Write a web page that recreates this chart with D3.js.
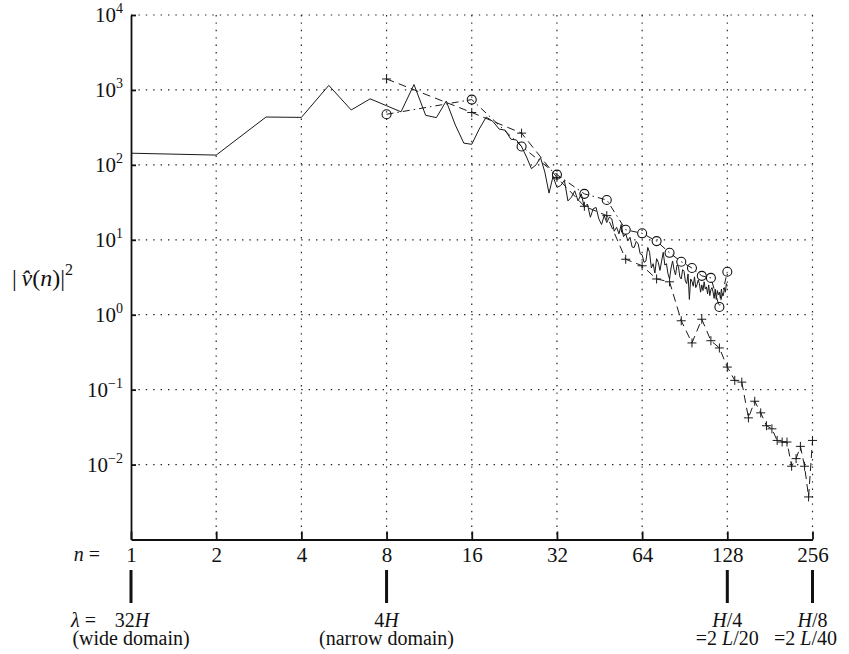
<!DOCTYPE html>
<meta charset="utf-8">
<style>
body { margin: 0; background: #fff; }
.grid line { stroke: #222; stroke-width: 1.2; stroke-dasharray: 1.4,6; }
.axis path, .axis line { stroke: #111; stroke-width: 1.8; }
.solid { fill: none; stroke: #1a1a1a; stroke-width: 1; }
.dashed { fill: none; stroke: #1a1a1a; stroke-width: 1; stroke-dasharray: 8,5; }
.dashdot { fill: none; stroke: #1a1a1a; stroke-width: 1; stroke-dasharray: 7,4,1.5,4; }
.plus { stroke: #1a1a1a; stroke-width: 1; fill: none; }
.circ { stroke: #111; stroke-width: 1.1; fill: none; }
</style>
<body>
<script src="https://d3js.org/d3.v7.min.js"></script>
<script>

// solid curve, one value per wavenumber n = 1..128
var solidValues = [
  143, 135, 435, 430, 1150, 540, 760, 615, 510, 1180,
  458, 427, 710, 340, 195, 188, 300, 435, 380, 300,
  290, 220, 215, 175, 127, 89, 100, 125, 80, 42,
  70, 50, 53, 62, 33, 37, 45, 33, 41, 27,
  30, 20, 26, 27, 19, 16, 21, 17, 20, 19,
  13, 14.7, 12, 16, 11, 12, 9.7, 10.8, 8.0, 7.9,
  9.5, 8.8, 6.5, 6.3, 5.0, 5.2, 7.9, 6.8, 4.2, 4.8,
  3.6, 5.6, 5.0, 3.9, 5.2, 6.8, 4.6, 4.8, 3.5, 3.0,
  4.2, 5.2, 4.0, 3.4, 4.6, 4.4, 3.2, 3.0, 4.0, 3.8,
  2.8, 2.6, 3.5, 1.6, 3.0, 2.8, 2.4, 3.2, 2.3, 2.5,
  2.9, 2.6, 2.0, 2.5, 2.1, 2.75, 2.2, 2.35, 1.9, 2.5,
  1.8, 2.15, 2.3, 2.0, 1.65, 2.2, 1.6, 2.1, 1.85, 2.0,
  1.65, 2.2, 1.8, 1.8, 2.3, 2.0, 2.6, 2.4
];

// dashed curve with + markers
var plusN = [8, 16, 24, 32, 40, 48, 56, 64, 72, 80, 88, 96, 104, 112, 120, 128,
             136, 144, 152, 160, 168, 176, 184, 192, 200, 208, 216, 224, 232, 240, 248, 256];
var plusValues = [1400, 500, 265, 68, 28, 21, 5.5, 4.5, 3.0, 2.75, 0.83, 0.42, 0.87, 0.45, 0.36, 0.20,
                  0.133, 0.126, 0.042, 0.070, 0.049, 0.033, 0.030, 0.021, 0.020, 0.020, 0.0095, 0.012, 0.0175, 0.0095, 0.0037, 0.021];

// dash-dot curve with circle markers
var circN = [8, 16, 24, 32, 40, 48, 56, 64, 72, 80, 88, 96, 104, 112, 120, 128];
var circValues = [473, 743, 176, 74, 41, 34, 13.6, 12.2, 9.6, 6.7, 5.1, 4.2, 3.3, 3.1, 1.27, 3.74];

var xTicks = [1, 2, 4, 8, 16, 32, 64, 128, 256];
var yTicks = [1e-2, 1e-1, 1, 10, 100, 1000, 1e4];
var yExp = ["\u22122", "\u22121", "0", "1", "2", "3", "4"];

var width = 849, height = 654;
var serif = "'Liberation Serif'";

var x = d3.scaleLog().base(2).domain([1, 256]).range([131, 812.5]);
var y = d3.scaleLog().domain([1e-3, 1e4]).range([539.5, 15]);

var svg = d3.select("body").append("svg")
    .attr("width", width)
    .attr("height", height);

// dotted grid
var grid = svg.append("g").attr("class", "grid");
grid.selectAll(".gx").data(xTicks.slice(1)).enter().append("line")
    .attr("x1", function(d) { return x(d); }).attr("x2", function(d) { return x(d); })
    .attr("y1", y(1e4)).attr("y2", y(1e-3));
grid.selectAll(".gy").data(yTicks).enter().append("line")
    .attr("x1", x(1)).attr("x2", x(256))
    .attr("y1", function(d) { return y(d); }).attr("y2", function(d) { return y(d); });

// curves
var solidData = solidValues.map(function(v, i) { return {n: i + 1, v: v}; });
var plusData = plusN.map(function(n, i) { return {n: n, v: plusValues[i]}; });
var circData = circN.map(function(n, i) { return {n: n, v: circValues[i]}; });

var line = d3.line()
    .x(function(d) { return x(d.n); })
    .y(function(d) { return y(d.v); });

svg.append("path").datum(solidData).attr("class", "solid").attr("d", line);
svg.append("path").datum(plusData).attr("class", "dashed").attr("d", line);
svg.append("path").datum(circData).attr("class", "dashdot").attr("d", line);

svg.selectAll(".plus").data(plusData).enter().append("path")
    .attr("class", "plus")
    .attr("transform", function(d) { return "translate(" + x(d.n) + "," + y(d.v) + ")"; })
    .attr("d", "M-4.5,0H4.5M0,-4.5V4.5");

svg.selectAll(".circ").data(circData).enter().append("circle")
    .attr("class", "circ")
    .attr("cx", function(d) { return x(d.n); })
    .attr("cy", function(d) { return y(d.v); })
    .attr("r", 4.5);

// axes, ticks pointing inward
var xAxis = svg.append("g").attr("class", "axis")
    .attr("transform", "translate(0," + y(1e-3) + ")")
    .call(d3.axisBottom(x).tickValues(xTicks).tickFormat(d3.format("d"))
        .tickSizeInner(-8).tickSizeOuter(0).tickPadding(8));
xAxis.selectAll("text")
    .style("font-family", serif).style("font-size", "21px").style("fill", "#111");

var yAxis = svg.append("g").attr("class", "axis")
    .attr("transform", "translate(" + x(1) + ",0)")
    .call(d3.axisLeft(y).tickValues(yTicks).tickFormat("")
        .tickSizeInner(-5).tickSizeOuter(0));

// y tick labels 10^k
var ylab = svg.selectAll(".ylab").data(yTicks).enter().append("text")
    .attr("class", "ylab")
    .attr("x", 123)
    .attr("y", function(d) { return y(d) + 7; })
    .attr("text-anchor", "end")
    .style("font-family", serif).style("font-size", "21px").style("fill", "#111");
ylab.append("tspan").text("10");
ylab.append("tspan").attr("dy", -9).style("font-size", "14px")
    .text(function(d, i) { return yExp[i]; });

// y title
var yt = svg.append("text").attr("x", 12).attr("y", 286)
    .style("font-family", serif).style("font-size", "24px").style("fill", "#111");
yt.append("tspan").text("|\u2009");
yt.append("tspan").style("font-style", "italic").text("v\u0302");
yt.append("tspan").text("(");
yt.append("tspan").style("font-style", "italic").text("n");
yt.append("tspan").text(")|");
yt.append("tspan").attr("dy", -11).style("font-size", "16px").text("2");

// wavelength marks
var marks = [1, 8, 128, 256];
svg.selectAll(".mark").data(marks).enter().append("line")
    .attr("x1", function(d) { return x(d); }).attr("x2", function(d) { return x(d); })
    .attr("y1", 570).attr("y2", 603)
    .attr("stroke", "#111").attr("stroke-width", 3);

function label(xp, yp, parts, anchor) {
  var t = svg.append("text").attr("x", xp).attr("y", yp)
      .attr("text-anchor", anchor || "middle")
      .style("font-family", serif).style("font-size", "20px").style("fill", "#111");
  parts.forEach(function(p) {
    t.append("tspan").style("font-style", p[1] ? "italic" : "normal").text(p[0]);
  });
}

label(100, 561, [["n", 1], [" =", 0]], "end");
label(96, 627, [["\u03bb", 1], [" =", 0]], "end");
label(x(1) + 1, 627, [["32", 0], ["H", 1]]);
label(x(1), 645, [["(wide domain)", 0]]);
label(x(8), 627, [["4", 0], ["H", 1]]);
label(x(8), 645, [["(narrow domain)", 0]]);
label(x(128), 627, [["H", 1], ["/4", 0]]);
label(x(128), 645, [["=2 ", 0], ["L", 1], ["/20", 0]]);
label(x(256), 627, [["H", 1], ["/8", 0]]);
label(x(256) - 7, 645, [["=2 ", 0], ["L", 1], ["/40", 0]]);

</script>
</body>
